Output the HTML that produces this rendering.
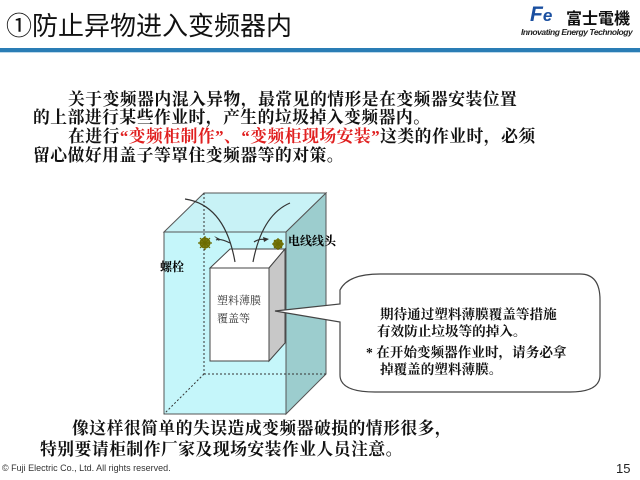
<!DOCTYPE html>
<html><head><meta charset="utf-8"><style>
body{margin:0;width:640px;height:480px;background:#fff;position:relative;overflow:hidden;font-family:"Liberation Sans","Noto Sans CJK SC",sans-serif}
.t{position:absolute;white-space:nowrap}
.s{font-family:"Liberation Serif","Noto Serif CJK SC",serif;font-weight:bold;font-size:16.8px;letter-spacing:0.5px;color:#111}
.r{color:#e02020}
.c{font-family:"Liberation Serif","Noto Serif CJK SC",serif;font-weight:bold;font-size:13.6px;color:#111}
</style></head><body>
<div class="t" style="left:6px;top:6px;font-size:26px;color:#111;font-family:'Liberation Sans','Noto Sans CJK SC',sans-serif">①防止异物进入变频器内</div>
<div class="t" style="left:530px;top:3px;font-size:21px;font-weight:bold;color:#1a4fa0;font-style:italic">F<span style="font-size:17px">e</span></div>
<div class="t" style="left:566px;top:5px;font-size:16px;font-weight:bold;color:#111;font-family:'Noto Sans CJK JP',sans-serif">富士電機</div>
<div class="t" style="left:521px;top:27px;font-size:8.5px;font-weight:bold;font-style:italic;color:#222;letter-spacing:-0.45px">Innovating Energy Technology</div>
<div style="position:absolute;left:0;top:48px;width:640px;height:4px;background:#2a7db5"></div>
<div style="position:absolute;left:0;top:52px;width:640px;height:1px;background:#bcd8ea"></div>

<div class="t s" style="left:68px;top:86px">关于变频器内混入异物，最常见的情形是在变频器安装位置</div>
<div class="t s" style="left:33px;top:104px">的上部进行某些作业时，产生的垃圾掉入变频器内。</div>
<div class="t s" style="left:68px;top:123px">在进行<span class="r">“变频柜制作”、“变频柜现场安装”</span>这类的作业时，必须</div>
<div class="t s" style="left:33px;top:142px">留心做好用盖子等罩住变频器等的对策。</div>

<svg style="position:absolute;left:0;top:0" width="640" height="480">
<polygon points="164,232 204,193 326,193 286,232" fill="#c8f2f6" stroke="#555" stroke-width="1"/>
<polygon points="286,232 326,193 326,374 286,414" fill="#9ccdce" stroke="#555" stroke-width="1"/>
<rect x="164" y="232" width="122" height="182" fill="#c5f6fa" stroke="#555" stroke-width="1"/>
<g stroke="#333" stroke-width="1" stroke-dasharray="2,2" fill="none">
<line x1="204" y1="193" x2="204" y2="374"/><line x1="204" y1="374" x2="326" y2="374"/><line x1="204" y1="374" x2="164" y2="414"/>
<line x1="230" y1="249" x2="285" y2="249"/>
</g>
<polygon points="210,268 230,249 285,249 269,268" fill="#fff" stroke="#444"/>
<polygon points="269,268 285,249 285,343 269,361" fill="#c8c8c8" stroke="#444"/>
<rect x="210" y="268" width="59" height="93" fill="#fff" stroke="#444"/>
<g fill="none" stroke="#333" stroke-width="1.2">
<path d="M185,199 Q225,205 235,262"/><path d="M290,203 Q262,215 253,262"/>
<path d="M230,243 Q220,238 216,240"/><path d="M254,242 Q260,238 266,240"/>
</g>
<polygon points="214,236 219,241 220,239" fill="#333"/><polygon points="269,239 263,237 264,242" fill="#333"/>
<g fill="#7a7a10" stroke="#6b6b00">
<circle cx="205" cy="243" r="5"/><circle cx="278" cy="244" r="4.5"/>
</g>
<g stroke="#6b6b00" stroke-width="1.2">
<path d="M198,243h14M205,236v14M200,238l10,10M210,238l-10,10"/>
<path d="M272,244h12M278,238v12M274,240l8,8M282,240l-8,8"/>
</g>
<path d="M340,290 Q348,274 380,274 L580,274 Q600,274 600,300 L600,375 Q600,392 570,392 L375,392 Q340,392 340,375 L340,322 L275,311 L340,304 Z" fill="#fff" stroke="#444" stroke-width="1.2"/>
</svg>
<div class="t" style="left:160px;top:258px;font-size:12px;font-weight:bold;font-family:'Noto Serif CJK SC',serif">螺栓</div>
<div class="t" style="left:288px;top:232px;font-size:12px;font-weight:bold;font-family:'Noto Serif CJK SC',serif">电线线头</div>
<div class="t" style="left:217px;top:292px;font-size:11px;color:#333;font-family:'Noto Serif CJK SC',serif">塑料薄膜</div>
<div class="t" style="left:217px;top:310px;font-size:11px;color:#333;font-family:'Noto Serif CJK SC',serif">覆盖等</div>

<div class="t c" style="left:380px;top:303px">期待通过塑料薄膜覆盖等措施</div>
<div class="t c" style="left:377px;top:320px">有效防止垃圾等的掉入。</div>
<div class="t c" style="left:366px;top:341px">* 在开始变频器作业时，请务必拿</div>
<div class="t c" style="left:380px;top:358px">掉覆盖的塑料薄膜。</div>

<div class="t s" style="left:72px;top:415px">像这样很简单的失误造成变频器破损的情形很多，</div>
<div class="t s" style="left:40px;top:436px">特别要请柜制作厂家及现场安装作业人员注意。</div>
<div class="t" style="left:2px;top:463px;font-size:9px;color:#333">© Fuji Electric Co., Ltd. All rights reserved.</div>
<div class="t" style="left:616px;top:461px;font-size:13px;color:#222">15</div>
</body></html>
